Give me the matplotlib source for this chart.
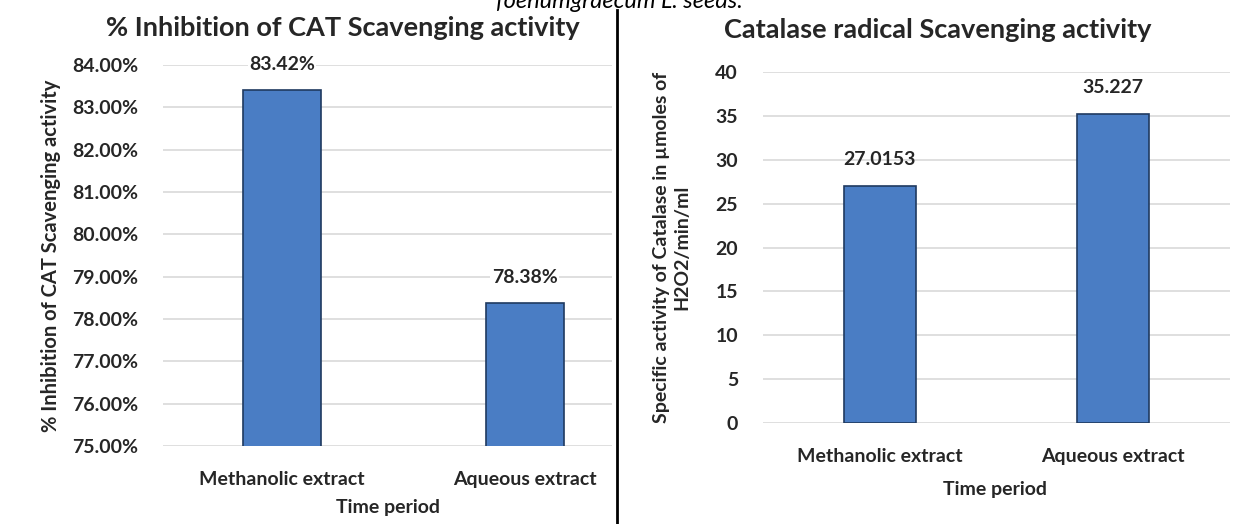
import matplotlib
matplotlib.use("Agg")
from matplotlib import pyplot as plt
import numpy as np

plt.rcParams['font.family'] = ['Lato', 'DejaVu Sans']
plt.rcParams['font.weight'] = 'bold'

categories = ['Methanolic extract', 'Aqueous extract']
inhibition = [83.42, 78.38]
inhibition_labels = ['83.42%', '78.38%']
inh_ticks = [75, 76, 77, 78, 79, 80, 81, 82, 83, 84]
activity = [27.0153, 35.227]
activity_labels = ['27.0153', '35.227']
act_ticks = [0, 5, 10, 15, 20, 25, 30, 35, 40]

bar_face = '#4a7dc4'
bar_edge = '#1f3a60'
grid_col = '#d9d9d9'
txt = '#262626'

fig = plt.figure(figsize=(12.39, 5.24), dpi=100)

# left panel
ax1 = fig.add_axes([0.1316, 0.1489, 0.3624, 0.7271])
x = np.arange(len(categories))
ax1.bar(x, inhibition, width=0.32, color=bar_face, edgecolor=bar_edge, linewidth=1.2, zorder=3)
ax1.set_ylim(75, 84)
ax1.set_xlim(-0.49, 1.36)
ax1.set_yticks(inh_ticks)
ax1.set_yticklabels(['%.2f%%' % v for v in inh_ticks])
ax1.set_xticks(x)
ax1.set_xticklabels(categories)
for i in range(len(x)):
	ax1.text(x[i], inhibition[i] + 0.6, inhibition_labels[i], ha='center', va='center',
		fontsize=14, fontweight='bold', color=txt, zorder=4,
		bbox=dict(facecolor='white', edgecolor='none', pad=1))
ax1.set_ylabel('% Inhibition of CAT Scavenging activity', fontsize=14.5, fontweight='bold',
	color=txt, labelpad=8)

# right panel
ax2 = fig.add_axes([0.6158, 0.1927, 0.3769, 0.6698])
ax2.bar(x, activity, width=0.31, color=bar_face, edgecolor=bar_edge, linewidth=1.2, zorder=3)
ax2.set_ylim(0, 40)
ax2.set_xlim(-0.5, 1.5)
ax2.set_yticks(act_ticks)
ax2.set_xticks(x)
ax2.set_xticklabels(categories)
for i in range(len(x)):
	ax2.text(x[i], activity[i] + 3, activity_labels[i], ha='center', va='center',
		fontsize=14, fontweight='bold', color=txt, zorder=4)
ax2.set_ylabel('Specific activity of Catalase in \u00b5moles of\nH2O2/min/ml', fontsize=14,
	fontweight='bold', color=txt, labelpad=18)

for ax in (ax1, ax2):
	ax.grid(True, axis='y', color=grid_col, linewidth=1.2)
	ax.set_axisbelow(True)
	for s in ax.spines.values():
		s.set_visible(False)
	ax.tick_params(length=0, labelsize=14, colors=txt)
	ax.tick_params(axis='x', pad=18)
	ax.tick_params(axis='y', pad=18)

# titles placed in figure coordinates
fig.text(343 / 1239, 1 - 28 / 524, '% Inhibition of CAT Scavenging activity', ha='center', va='center',
	fontsize=19.5, fontweight='bold', color=txt)
fig.text(938 / 1239, 1 - 30 / 524, 'Catalase radical Scavenging activity', ha='center', va='center',
	fontsize=19.5, fontweight='bold', color=txt)

fig.text(388 / 1239, 1 - 507 / 524, 'Time period', ha='center', va='center', fontsize=14,
	fontweight='bold', color=txt)
fig.text(995 / 1239, 1 - 490 / 524, 'Time period', ha='center', va='center', fontsize=14,
	fontweight='bold', color=txt)

# divider and clipped caption
fig.add_artist(plt.Line2D([0.498, 0.498], [0, 0.98], color='black', linewidth=2))
fig.text(0.5, 0.998, 'foenumgraecum L. seeds.', ha='center', va='center', fontsize=17,
	style='italic', fontweight='normal', color='black')

fig.savefig('out.png', dpi=100)
